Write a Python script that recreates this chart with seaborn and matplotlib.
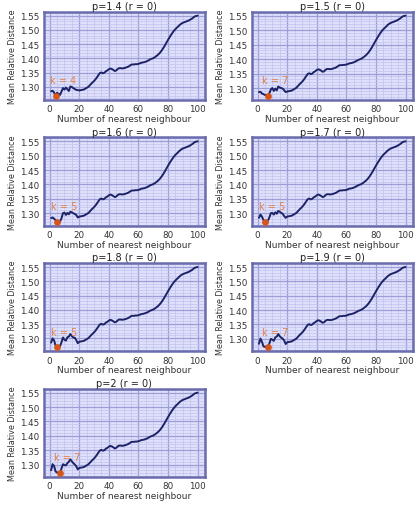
import numpy as np
import pandas as pd
import matplotlib
matplotlib.use('Agg')
import matplotlib.pyplot as plt
import seaborn as sns
from matplotlib.ticker import AutoMinorLocator

# values
p_values = ['1.4', '1.5', '1.6', '1.7', '1.8', '1.9', '2']
neighbours = list(range(1, 101))

# k = 20..100, nearly identical in every panel
tail = [1.288, 1.289, 1.290, 1.291, 1.294, 1.297, 1.300, 1.305, 1.311, 1.316,
        1.321, 1.327, 1.334, 1.342, 1.349, 1.351, 1.348, 1.350, 1.355, 1.358,
        1.362, 1.365, 1.363, 1.360, 1.356, 1.358, 1.363, 1.366, 1.366, 1.365,
        1.366, 1.367, 1.369, 1.371, 1.374, 1.378, 1.379, 1.379, 1.380, 1.380,
        1.381, 1.383, 1.385, 1.386, 1.387, 1.389, 1.391, 1.394, 1.397, 1.399,
        1.401, 1.404, 1.408, 1.412, 1.417, 1.423, 1.430, 1.438, 1.447, 1.456,
        1.465, 1.474, 1.482, 1.490, 1.497, 1.503, 1.508, 1.513, 1.518, 1.522,
        1.525, 1.527, 1.529, 1.531, 1.533, 1.536, 1.539, 1.543, 1.547, 1.549,
        1.550]

# k = 1..19 per panel
head_14 = [1.285, 1.287, 1.281, 1.268, 1.280, 1.276, 1.272, 1.284, 1.296, 1.291,
           1.298, 1.292, 1.286, 1.302, 1.300, 1.296, 1.293, 1.290, 1.289]
head_15 = [1.286, 1.287, 1.281, 1.279, 1.276, 1.276, 1.272, 1.282, 1.295, 1.300,
           1.290, 1.298, 1.292, 1.305, 1.302, 1.300, 1.298, 1.292, 1.286]
head_16 = [1.283, 1.285, 1.281, 1.276, 1.270, 1.272, 1.271, 1.282, 1.300, 1.302,
           1.294, 1.301, 1.296, 1.305, 1.303, 1.300, 1.297, 1.294, 1.285]
head_17 = [1.284, 1.295, 1.288, 1.276, 1.270, 1.272, 1.274, 1.285, 1.300, 1.301,
           1.295, 1.303, 1.298, 1.308, 1.305, 1.301, 1.298, 1.290, 1.284]
head_18 = [1.285, 1.300, 1.293, 1.275, 1.268, 1.272, 1.272, 1.286, 1.303, 1.295,
           1.292, 1.304, 1.306, 1.315, 1.308, 1.303, 1.302, 1.294, 1.283]
head_19 = [1.283, 1.301, 1.290, 1.274, 1.272, 1.273, 1.270, 1.284, 1.300, 1.297,
           1.293, 1.305, 1.308, 1.317, 1.309, 1.304, 1.301, 1.294, 1.282]
head_20 = [1.280, 1.301, 1.295, 1.276, 1.272, 1.272, 1.270, 1.286, 1.301, 1.298,
           1.297, 1.305, 1.310, 1.318, 1.311, 1.305, 1.300, 1.294, 1.283]
heads = [head_14, head_15, head_16, head_17, head_18, head_19, head_20]

sns.set_style("white")
plt.rcParams['font.family'] = ['DejaVu Sans']

fig, axes = plt.subplots(4, 2, figsize=(4.17, 5.06), dpi=100)
fig.subplots_adjust(left=0.105, right=0.99, top=0.975, bottom=0.055,
                    wspace=0.29, hspace=0.42)

line_col = '#1c2366'
mark_col = '#d4561a'
text_col = '#e0834a'

for i, ax in enumerate(axes.flat):
    if i >= len(p_values):
        ax.remove()
        continue
    df = pd.DataFrame({'k': neighbours, 'dist': heads[i] + tail})
    best = df.loc[df['dist'].idxmin()]

    ax.set_facecolor('#dfe0fb')
    sns.lineplot(data=df, x='k', y='dist', ax=ax, color=line_col, lw=1.4, zorder=3)
    sns.scatterplot(x=[best['k']], y=[best['dist']], ax=ax, color=mark_col,
                    s=20, edgecolor=mark_col, zorder=4)
    ax.text(best['k'] - 4, best['dist'] + 0.045, f"k = {int(best['k'])}",
            color=text_col, fontsize=7, zorder=5)

    ax.xaxis.set_minor_locator(AutoMinorLocator(4))
    ax.yaxis.set_minor_locator(AutoMinorLocator(5))
    ax.grid(which='major', color='#9c9fd6', lw=0.9, zorder=0)
    ax.grid(which='minor', color='#c0c2ee', lw=0.5, zorder=0)
    ax.set_axisbelow(True)
    for sp in ax.spines.values():
        sp.set_color('#6a6cae')
        sp.set_linewidth(1.8)

    ax.set_xticks([0, 20, 40, 60, 80, 100])
    ax.set_yticks([1.30, 1.35, 1.40, 1.45, 1.50, 1.55])
    ax.tick_params(axis='both', which='major', labelsize=6.3, length=1.5, pad=1.5,
                   labelcolor='#333333')
    ax.tick_params(axis='both', which='minor', length=0)
    ax.set_title(f"p={p_values[i]} (r = 0)", fontsize=7, pad=2, color='#222222')
    ax.set_xlabel("Number of nearest neighbour", fontsize=6.5, labelpad=0.5, color='#333333')
    ax.set_ylabel("Mean Relative Distance", fontsize=5.8, labelpad=2, color='#333333')

plt.savefig('out.png', dpi=100)
plt.close()
